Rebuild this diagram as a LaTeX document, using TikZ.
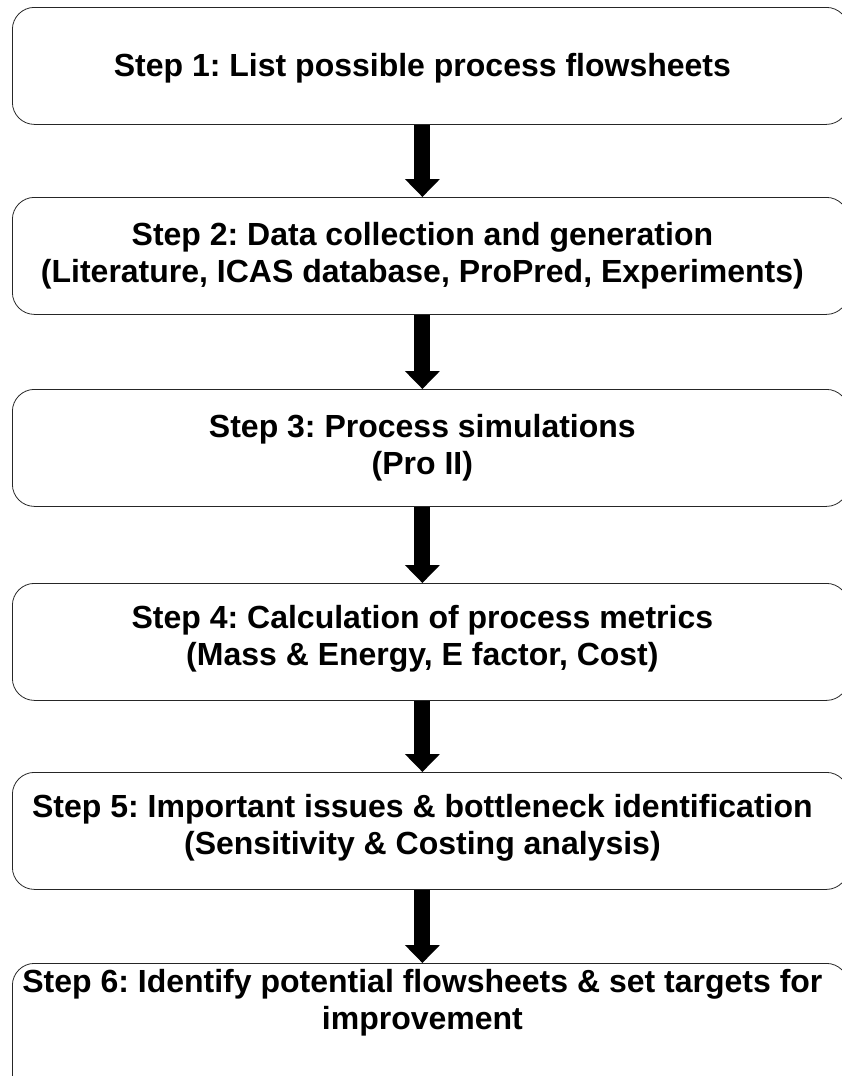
\documentclass[tikz,border=0pt]{standalone}
\usepackage{fontspec}
\setmainfont{Liberation Sans}
\frenchspacing
\usetikzlibrary{arrows.meta,calc,positioning}
\tikzset{%
  stepbox/.style={draw=black!85,line width=.8pt,rounded corners=22pt,minimum width=836pt,minimum height=117pt,anchor=north west,inner sep=0pt},
  steptext/.style={align=center,inner sep=0pt,font=\bfseries\fontsize{32}{37}\selectfont},
  flow/.style={line width=16pt,-{Triangle[width=34pt,length=18pt]}}
}

\begin{document}
\begin{tikzpicture}[x=1pt,y=-1pt]
	\useasboundingbox (0,0) rectangle (841,1076);
	% boxes
	\node[stepbox] (box1) at (12,7) {};
	\node[stepbox] (box2) at (12,197) {};
	\node[stepbox] (box3) at (12,389) {};
	\node[stepbox] (box4) at (12,583) {};
	\node[stepbox] (box5) at (12,772) {};
	\node[stepbox,minimum height=140pt] (box6) at (12,963) {};
	
	% texts
	\node[steptext] (text1) at ([xshift=-8pt,yshift=-2pt]box1.center) {Step 1: List possible process flowsheets};
	\node[steptext] (text2) at ([xshift=-8pt]box2.center) {Step 2: Data collection and generation\\(Literature, ICAS database, ProPred, Experiments)};
	\node[steptext] (text3) at ([xshift=-8pt]box3.center) {Step 3: Process simulations\\(Pro II)};
	\node[steptext] (text4) at ([xshift=-8pt,yshift=3pt]box4.center) {Step 4: Calculation of process metrics\\(Mass \& Energy, E factor, Cost)};
	\node[steptext] (text5) at ([xshift=-8pt,yshift=3pt]box5.center) {Step 5: Important issues \& bottleneck identification\\(Sensitivity \& Costing analysis)};
	\node[steptext,anchor=north] (text6) at ([xshift=-8pt,yshift=-6pt]box6.north) {Step 6: Identify potential flowsheets \& set targets for\\improvement};
	
	% arrows
	\foreach \a/\b in {1/2,2/3,3/4,4/5,5/6} {%
		\draw[flow] (box\a.south -| text\a) -- (box\b.north -| text\a);
	}
\end{tikzpicture}
\end{document}
